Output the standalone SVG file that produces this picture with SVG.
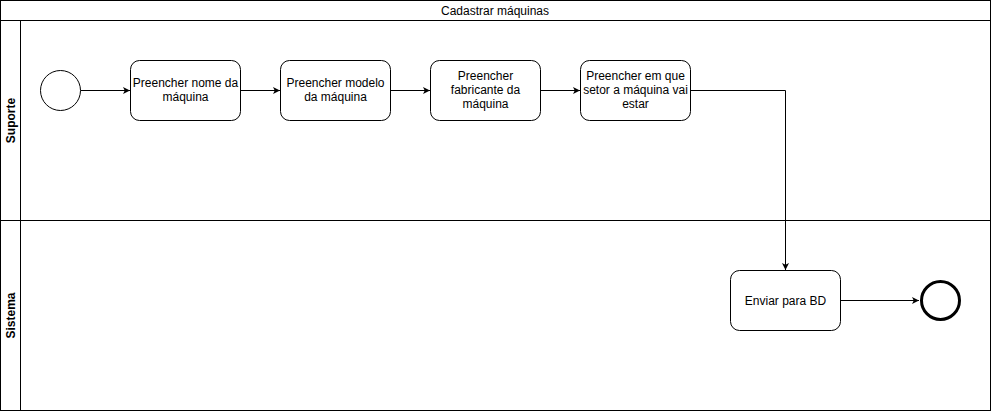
<svg xmlns="http://www.w3.org/2000/svg" width="991" height="411" viewBox="0 0 991 411">
<style>
.ln{fill:none;stroke:#000;stroke-width:1}
.box{fill:#fff;stroke:#000;stroke-width:1}
.t{font-family:"Liberation Sans",Arial,sans-serif;font-size:12px;fill:#000;text-anchor:middle}
.lb{font-family:"Liberation Sans",Arial,sans-serif;font-size:12px;font-weight:bold;fill:#000;text-anchor:middle}
</style>
<defs>
<marker id="arr" viewBox="0 0 10 10" refX="10" refY="5" markerWidth="7" markerHeight="7" markerUnits="userSpaceOnUse" orient="auto">
<path d="M0,0 L10,5 L0,10 L2.5,5 Z" fill="#000"/>
</marker>
</defs>
<rect width="991" height="411" fill="#fff"/>
<g id="pool">
<rect x="0.5" y="0.5" width="990" height="410" class="box"/>
<line x1="0.5" y1="20.5" x2="990.5" y2="20.5" class="ln"/>
<text x="495" y="15" class="t">Cadastrar máquinas</text>
</g>
<g id="lane-suporte">
<rect x="0.5" y="20.5" width="990" height="200" class="ln"/>
<line x1="20.5" y1="20.5" x2="20.5" y2="220.5" class="ln"/>
<text transform="translate(14.5,120.5) rotate(-90)" class="lb">Suporte</text>
</g>
<g id="lane-sistema">
<rect x="0.5" y="220.5" width="990" height="190" class="ln"/>
<line x1="20.5" y1="220.5" x2="20.5" y2="410.5" class="ln"/>
<text transform="translate(14.5,315.5) rotate(-90)" class="lb">Sistema</text>
</g>
<g id="connectors">
<line x1="80.5" y1="90.5" x2="130" y2="90.5" class="ln" marker-end="url(#arr)"/>
<line x1="240.5" y1="90.5" x2="280" y2="90.5" class="ln" marker-end="url(#arr)"/>
<line x1="390.5" y1="90.5" x2="430" y2="90.5" class="ln" marker-end="url(#arr)"/>
<line x1="540.5" y1="90.5" x2="580" y2="90.5" class="ln" marker-end="url(#arr)"/>
<polyline points="690.5,90.5 785.5,90.5 785.5,270" class="ln" marker-end="url(#arr)"/>
<line x1="840.5" y1="300.5" x2="919" y2="300.5" class="ln" marker-end="url(#arr)"/>
</g>
<g id="start">
<circle cx="60.5" cy="90.5" r="20" class="box"/>
</g>
<g id="n1">
<rect x="130.5" y="60.5" width="110" height="60" rx="9" class="box"/>
<text x="185.5" y="87" class="t">Preencher nome da</text>
<text x="185.5" y="101" class="t">máquina</text>
</g>
<g id="n2">
<rect x="280.5" y="60.5" width="110" height="60" rx="9" class="box"/>
<text x="335.5" y="87" class="t">Preencher modelo</text>
<text x="335.5" y="101" class="t">da máquina</text>
</g>
<g id="n3">
<rect x="430.5" y="60.5" width="110" height="60" rx="9" class="box"/>
<text x="485.5" y="80" class="t">Preencher</text>
<text x="485.5" y="94" class="t">fabricante da</text>
<text x="485.5" y="108" class="t">máquina</text>
</g>
<g id="n4">
<rect x="580.5" y="60.5" width="110" height="60" rx="9" class="box"/>
<text x="635.5" y="80" class="t">Preencher em que</text>
<text x="635.5" y="94" class="t">setor a máquina vai</text>
<text x="635.5" y="108" class="t">estar</text>
</g>
<g id="n5">
<rect x="730.5" y="270.5" width="110" height="60" rx="9" class="box"/>
<text x="785.5" y="304.5" class="t">Enviar para BD</text>
</g>
<g id="end">
<circle cx="940.5" cy="300.5" r="19" fill="#fff" stroke="#000" stroke-width="3"/>
</g>
</svg>
